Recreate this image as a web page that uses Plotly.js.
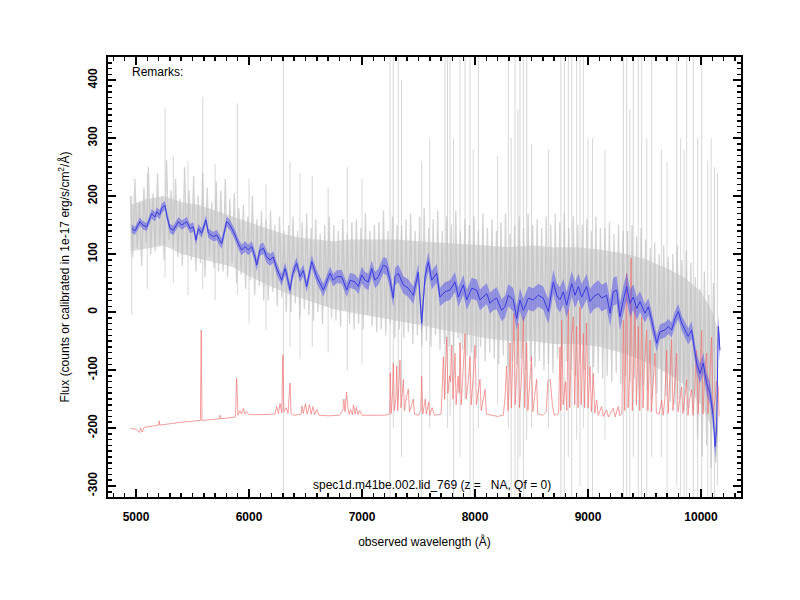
<!DOCTYPE html>
<html><head><meta charset="utf-8">
<script src="https://cdn.plot.ly/plotly-3.0.1.min.js"></script>
<style>html,body{margin:0;padding:0;background:#fff}#chart{width:800px;height:600px}</style>
</head><body><div id="chart"></div>
<script>
// ---- raw (noisy) spectrum, sampled on a 20 A pixel grid ----
const grayStart = 4950, grayStep = 20;
const grayFlux = [
 200, 95, 230, 110, 190, 80, 215, 120, 250, 100,
 205, 105, 240, 115, 200, 90, 262, 125, 210, 110,
 230, 95, 195, 80, 250, 100, 210, 90, 235, 70,
 200, 85, 240, 60, 215, 95, 190, 75, 225, 70,
 210, 70, 230, 60, 195, 85, 205, 50, 180, 65,
 185, 40, 165, 55, 200, 30, 160, 45, 175, 20,
 160, 20, 175, 35, 150, 10, 165, 25, 140, 0,
 150, 0, 165, 15, 140, -10, 155, 5, 170, -5,
 145, -15, 160, 0, 135, -20, 150, 10, 165, -10,
 150, -15, 140, -25, 160, 5, 135, -20, 155, -30,
 160, -20, 145, -30, 170, -5, 140, -25, 150, -35,
 155, -30, 175, -40, 140, -20, 165, -45, 150, -30,
 150, -45, 160, -35, 170, -55, 140, -40, 165, -60,
 180, -50, 145, -60, 160, -40, 175, -65, 140, -55,
 165, -60, 150, -70, 175, -45, 140, -65, 160, -75,
 150, -70, 165, -80, 140, -60, 170, -85, 145, -70,
 160, -80, 140, -90, 155, -75, 170, -95, 135, -85,
 150, -90, 165, -80, 145, -100, 170, -85, 150, -95,
 160, -85, 145, -100, 165, -90, 150, -105, 170, -80,
 155, -95, 170, -85, 145, -100, 165, -110, 150, -90,
 150, -100, 160, -110, 140, -95, 165, -105, 145, -115,
 145, -110, 155, -120, 135, -105, 150, -125, 140, -110,
 140, -120, 150, -115, 130, -130, 145, -125, 125, -135,
 110, -150, 120, -140, 100, -160, 115, -145, 95, -155,
 100, -160, 115, -150, 90, -170, 105, -165, 85, -175,
 60, -220, 40, -250, 70, -230, 30, -270, 50, -260,
 -180
];
// ---- dense core of the noisy spectrum (where most pixels lie) ----
const coreWave = [4950,5100,5250,5400,5550,5700,5850,6000,6150,6300,6450,6600,6750,6900,7100,7300,7500,7700,7900,8100,8300,8500,8700,8900,9100,9300,9500,9700,9850,10000,10100,10150];
const coreHi = [185,195,200,190,185,175,165,155,145,135,128,125,122,125,125,125,122,120,118,115,112,115,112,112,108,102,92,75,60,35,0,-30];
const coreLo = [105,110,115,100,92,85,78,62,48,35,25,15,5,0,-8,-15,-22,-30,-38,-45,-50,-50,-55,-55,-60,-70,-85,-105,-125,-160,-200,-215];
// ---- strong outlier pixels (sky-line residuals) ----
const spikeWave = [4962,5100,5257,5330,5460,5590,5700,5897,6000,6150,6304,6363,6450,6560,6700,6870,7000,
 7248,7277,7321,7350,7528,7600,7735,7757,7779,7810,7867,7912,7956,7985,8030,8200,8295,8320,8354,8380,8398,8428,8457,8500,8650,
 8760,8790,8826,8856,8900,8929,8959,9000,9040,9150,9313,9342,9370,9401,9445,9475,9520,9564,9650,9700,9785,9820,9850,9873,9932,9970,10006,10060,10090,10120,10145];
const spikeTop = [200,240,352,270,260,371,255,360,230,220,450,260,240,235,215,250,230,
 450,450,450,400,260,300,450,450,450,300,450,450,450,280,450,270,450,300,450,350,450,450,450,290,280,
 450,450,450,450,450,450,450,300,300,280,450,450,350,450,450,450,300,450,280,260,450,300,280,450,450,300,450,260,300,250,240];
const spikeBottom = [-5,40,60,50,30,40,20,30,-20,-30,-330,-60,-80,-60,-70,-100,-90,
 -330,-200,-150,-250,-330,-200,-150,-200,-180,-330,-250,-150,-330,-330,-200,-160,-200,-330,-330,-330,-250,-330,-220,-200,-200,
 -330,-330,-250,-330,-220,-300,-200,-330,-330,-220,-330,-330,-330,-250,-330,-330,-330,-250,-250,-330,-300,-330,-330,-330,-330,-330,-330,-330,-330,-330,-300];
// ---- sky spectrum (red) ----
const skyWave = [4950,5000,5030,5040,5055,5070,5200,5205,5210,5400,5570,5577,5584,5700,5740,5745,5750,5880,5890,5896,5902,5920,5935,5950,5965,5980,
 6000,6100,6230,6245,6260,6275,6290,6300,6308,6330,6345,6363,6372,6400,6460,6470,6480,6500,6515,6535,6550,6565,6580,6600,6620,6700,6800,
 6830,6840,6850,6863,6872,6885,6900,6915,6925,6940,6950,6965,6980,7000,7100,7200,7245,7250,7258,7270,7277,7286,7300,7307,7316,7328,7336,
 7345,7358,7366,7375,7390,7410,7420,7440,7454,7465,7500,7520,7528,7538,7560,7570,7590,7600,7620,7640,7700,7712,7720,7730,7742,7750,7760,
 7775,7785,7795,7805,7815,7823,7833,7850,7860,7868,7878,7895,7912,7922,7940,7956,7966,7985,8000,8012,8030,8044,8055,8075,8089,8100,8150,
 8200,8250,8265,8280,8292,8300,8310,8322,8335,8345,8355,8370,8383,8393,8410,8428,8440,8450,8457,8468,8485,8500,8512,8530,8545,8555,8600,
 8630,8645,8665,8685,8700,8740,8752,8760,8767,8780,8800,8812,8826,8838,8855,8870,8882,8900,8912,8929,8940,8959,8970,8988,9000,9018,9030,
 9047,9060,9077,9090,9121,9135,9165,9180,9224,9240,9268,9280,9300,9313,9325,9342,9355,9370,9381,9392,9405,9416,9428,9445,9458,9475,9487,
 9500,9519,9530,9549,9560,9593,9605,9630,9652,9665,9680,9696,9710,9740,9752,9770,9785,9797,9829,9840,9873,9885,9900,9917,9930,9945,9961,
 9975,10006,10018,10035,10050,10062,10094,10106,10124,10136,10153,10160];
const skyFlux = [-201,-202,-208,-200,-207,-199,-195,-188,-195,-190,-187,-31,-187,-185,-184,-178,-184,-181,-114,-140,-178,-170,-176,-166,-176,-172,
 -177,-177,-176,-163,-175,-158,-174,-74,-172,-165,-175,-122,-175,-178,-176,-162,-175,-158,-176,-160,-176,-163,-177,-168,-178,-179,-178,
 -170,-150,-172,-138,-160,-176,-168,-177,-160,-176,-164,-177,-170,-178,-178,-178,-176,-105,-175,-140,-88,-170,-150,-93,-170,-130,-83,
 -165,-140,-116,-170,-150,-133,-172,-160,-150,-176,-178,-170,-111,-176,-150,-176,-155,-178,-165,-178,-176,-120,-77,-150,-100,-43,-140,
 -110,-120,-57,-150,-100,-71,-160,-110,-140,-53,-160,-100,-37,-150,-120,-77,-160,-110,-57,-160,-130,-116,-170,-150,-133,-176,-178,
 -180,-178,-150,-93,-170,-140,-53,-165,-80,-2,-160,-100,-19,-165,-120,-8,-165,-100,-53,-170,-110,-77,-172,-140,-116,-176,-178,
 -172,-120,-116,-160,-178,-175,-60,-170,-14,-160,-120,-170,5,-165,-40,-8,-160,-25,-165,9,-160,-37,-165,-19,-165,-94,-172,
 -106,-174,-152,-178,-163,-180,-169,-181,-166,-181,-163,-178,-176,-14,-170,67,-165,-100,93,-170,-60,9,-160,-25,-170,-8,-165,
 -90,-31,-170,-48,-172,-71,-174,-176,-152,-178,-150,-66,-175,-48,-170,-120,-71,-172,-129,-175,-117,-178,-150,-134,-178,-130,-66,
 -175,-31,-176,-100,-71,-175,-43,-175,-152,-120,-129,-180];
// ---- smoothed spectrum (blue) with its 1-sigma band ----
const blueWave = [
 4962,4990,5035,5060,5095,5120,5139,5168,5183,5210,
 5227,5257,5272,5301,5330,5375,5404,5449,5478,5507,
 5531,5552,5581,5619,5640,5684,5714,5758,5802,5832,
 5876,5905,5935,5965,5994,6024,6053,6068,6097,6127,
 6156,6186,6215,6245,6289,6319,6340,6363,6385,6407,
 6422,6451,6481,6510,6555,6599,6658,6717,6746,6776,
 6820,6865,6894,6938,6968,6997,7027,7056,7086,7115,
 7145,7189,7218,7248,7277,7292,7321,7366,7410,7454,
 7498,7528,7558,7587,7617,7661,7690,7735,7779,7823,
 7853,7897,7927,7971,8015,8044,8104,8133,8162,8192,
 8236,8265,8295,8339,8369,8398,8428,8472,8516,8560,
 8604,8649,8693,8723,8752,8782,8811,8856,8885,8915,
 8944,8988,9018,9047,9091,9121,9165,9195,9224,9254,
 9283,9313,9342,9372,9401,9431,9460,9504,9534,9564,
 9608,9637,9681,9711,9740,9770,9799,9829,9858,9887,
 9917,9961,9991,10020,10049,10080,10109,10124,10138,10153,
 10168];
const blueFlux = [
 144,140,156,150,147,160,170,164,173,168,
 179,184,167,144,141,156,150,156,144,147,
 124,144,136,159,136,130,133,118,156,150,
 133,118,107,113,107,113,95,81,107,110,
 95,90,95,75,55,75,60,38,65,78,
 84,61,72,44,87,61,38,67,55,61,
 61,38,55,52,44,64,55,52,75,55,
 61,81,78,55,24,61,67,47,41,29,
 69,-19,61,87,55,67,26,35,38,52,
 26,47,21,41,38,21,32,15,21,24,
 3,9,29,21,-11,21,3,24,21,29,
 24,1,52,29,21,35,12,49,29,44,
 26,44,18,26,32,24,29,-2,35,38,
 -8,21,44,15,26,6,18,-2,9,-14,
 -54,-34,-31,-25,-31,-11,1,-19,-31,-42,
 -31,-88,-106,-88,-123,-140,-181,-232,-204,-25,
 -66];
const blueErr = [
 7,7,7,7,7,7,8,8,8,8,
 8,8,8,8,8,8,8,8,8,8,
 8,8,8,8,8,8,9,9,9,9,
 9,9,9,9,9,9,10,10,10,10,
 10,10,10,10,10,10,10,10,10,10,
 10,10,10,10,11,11,11,11,11,11,
 12,12,13,13,13,14,14,14,14,14,
 14,14,15,15,15,15,15,15,15,15,
 15,17,16,16,16,16,16,17,17,17,
 17,17,17,18,18,18,18,18,18,19,
 19,19,19,20,20,20,20,20,20,20,
 20,21,21,21,22,22,22,22,22,22,
 22,22,22,22,23,23,23,23,24,24,
 24,24,24,24,22,20,18,16,15,14,
 14,13,13,13,13,13,13,13,14,14,
 15,16,17,18,18,19,20,20,20,20,
 20];
// ---- axes / texts ----
const xTickVals = [5000, 6000, 7000, 8000, 9000, 10000];
const xTickText = ['5000', '6000', '7000', '8000', '9000', '10000'];
const yTickVals = [-300, -200, -100, 0, 100, 200, 300, 400];
const yTickText = ['-300', '-200', '-100', '0', '100', '200', '300', '400'];
const xTitle = 'observed wavelength (Å)';
const yTitle = 'Flux (counts or calibrated in 1e-17 erg/s/cm<sup>2</sup>/Å)';
const remarkText = 'Remarks:';
const specText = 'spec1d.m41be.002.lid_769 (z =\u00a0\u00a0 NA, Qf = 0)';

const FONT = 'Liberation Sans, Arial, Helvetica, sans-serif';

const grayWave = grayFlux.map((_, i) => grayStart + i * grayStep);
const spX = [], spY = [];
spikeWave.forEach((w, i) => { spX.push(w, w, null); spY.push(spikeBottom[i], spikeTop[i], null); });

const coreX = coreWave.concat(coreWave.slice().reverse());
const coreY = coreHi.concat(coreLo.slice().reverse());

const bandX = blueWave.concat(blueWave.slice().reverse());
const bandY = blueFlux.map((f, i) => f + blueErr[i])
  .concat(blueFlux.map((f, i) => f - blueErr[i]).reverse());

const traces = [
  {x: spX, y: spY, type: 'scatter', mode: 'lines', hoverinfo: 'skip',
   line: {color: 'rgba(205,205,205,0.8)', width: 1}},
  {x: coreX, y: coreY, type: 'scatter', mode: 'lines', fill: 'toself', hoverinfo: 'skip',
   fillcolor: 'rgba(205,205,205,0.7)', line: {width: 0}},
  {x: grayWave, y: grayFlux, type: 'scatter', mode: 'lines', hoverinfo: 'skip',
   line: {color: 'rgba(192,192,192,0.7)', width: 1.3}},
  {x: skyWave, y: skyFlux, type: 'scatter', mode: 'lines',
   line: {color: 'rgba(240,110,110,0.85)', width: 0.8}},
  {x: bandX, y: bandY, type: 'scatter', mode: 'lines', fill: 'toself',
   fillcolor: 'rgba(80,80,235,0.5)', line: {width: 0}, hoverinfo: 'skip'},
  {x: blueWave, y: blueFlux, type: 'scatter', mode: 'lines',
   line: {color: 'rgb(60,60,225)', width: 1}}
];

const axisCommon = {
  showgrid: false, zeroline: false, showline: true, linecolor: '#000', linewidth: 2,
  ticks: 'inside', ticklen: 8, tickwidth: 2, tickcolor: '#000', mirror: 'allticks',
  tickmode: 'array',
  tickfont: {family: FONT, size: 12, color: '#000', weight: 'bold'}
};

const layout = {
  width: 800, height: 600,
  margin: {l: 108, r: 59, t: 57, b: 103},
  paper_bgcolor: '#fff', plot_bgcolor: '#fff',
  showlegend: false,
  font: {family: FONT, size: 12, color: '#000'},
  xaxis: Object.assign({}, axisCommon, {
    range: [4752, 10354], tickvals: xTickVals, ticktext: xTickText,
    ticklabelstandoff: 8,
    minor: {tickmode: 'linear', tick0: 0, dtick: 100, ticks: 'inside', ticklen: 4, tickwidth: 1.5, tickcolor: '#000', showgrid: false},
    title: {text: xTitle, font: {family: FONT, size: 12, color: '#000'}, standoff: 14}
  }),
  yaxis: Object.assign({}, axisCommon, {
    range: [-319, 440], tickvals: yTickVals, ticktext: yTickText, tickangle: -90,
    ticklabelstandoff: 4,
    minor: {tickmode: 'linear', tick0: 0, dtick: 10, ticks: 'inside', ticklen: 4, tickwidth: 1.5, tickcolor: '#000', showgrid: false},
    title: {text: yTitle, font: {family: FONT, size: 12, color: '#000'}, standoff: 14}
  }),
  annotations: [
    {xref: 'paper', yref: 'paper', x: 0.034, y: 0.965, xanchor: 'left', yanchor: 'middle',
     text: remarkText, showarrow: false, font: {family: FONT, size: 12, color: '#000'}},
    {xref: 'paper', yref: 'paper', x: 0.512, y: 0.027, xanchor: 'center', yanchor: 'middle',
     text: specText, showarrow: false, font: {family: FONT, size: 12, color: '#000'}}
  ]
};

Plotly.newPlot('chart', traces, layout, {staticPlot: true, displayModeBar: false});
</script>
</body></html>
